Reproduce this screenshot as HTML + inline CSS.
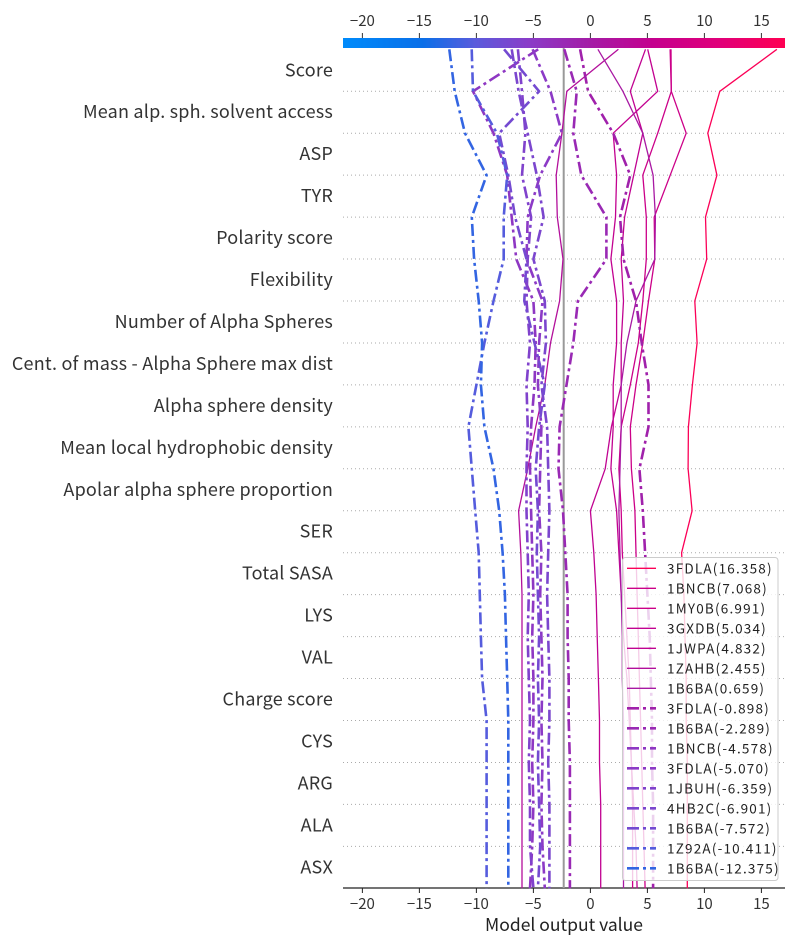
<!DOCTYPE html>
<html><head><meta charset="utf-8">
<style>
html,body{margin:0;padding:0;background:#fff;}
svg{display:block;font-family:"Noto Sans CJK JP","Liberation Sans","DejaVu Sans",sans-serif;}
</style></head>
<body>
<svg id="chart" width="800" height="950" viewBox="0 0 800 950" xmlns="http://www.w3.org/2000/svg">
<defs>
<linearGradient id="cbar" x1="0" x2="1" y1="0" y2="0">
<stop offset="0" stop-color="#008bfb"/><stop offset="0.18" stop-color="#0a6fe8"/><stop offset="0.3" stop-color="#5b5bdc"/><stop offset="0.42" stop-color="#8a3cc8"/><stop offset="0.55" stop-color="#a21ea8"/><stop offset="0.7" stop-color="#c4008e"/><stop offset="0.85" stop-color="#e0007a"/><stop offset="1" stop-color="#ff0052"/>
</linearGradient>
</defs>
<rect x="343" y="38" width="442" height="10" fill="url(#cbar)"/>
<g id="grid"></g>
<g id="toptick"></g>
<g id="bottomaxis"></g>
<line x1="563.7" x2="563.7" y1="48" y2="888" stroke="#999" stroke-width="2"/>
<g id="lines"></g>
<g id="features"></g>
<text x="564" y="931" text-anchor="middle" font-size="17.5" fill="#222">Model output value</text>
<g id="legend"></g>
</svg>
<script>
const features = ["Score","Mean alp. sph. solvent access","ASP","TYR","Polarity score","Flexibility","Number of Alpha Spheres","Cent. of mass - Alpha Sphere max dist","Alpha sphere density","Mean local hydrophobic density","Apolar alpha sphere proportion","SER","Total SASA","LYS","VAL","Charge score","CYS","ARG","ALA","ASX"];
const tickValues = [-20,-15,-10,-5,0,5,10,15];
const tickLabels = ["\u221220","\u221215","\u221210","\u22125","0","5","10","15"];
const sampleNames = ["3FDLA","1BNCB","1MY0B","3GXDB","1JWPA","1ZAHB","1B6BA","3FDLA","1B6BA","1BNCB","3FDLA","1JBUH","4HB2C","1B6BA","1Z92A","1B6BA"];
const finalValues = [16.358,7.068,6.991,5.034,4.832,2.455,0.659,-0.898,-2.289,-4.578,-5.070,-6.359,-6.901,-7.572,-10.411,-12.375];
const baseValue = -2.33;
const s0 = [16.36,11.35,10.3,11.1,10.1,10.2,9.16,9.36,8.95,8.6,8.57,8.92,8.0,8.2,8.3,8.4,8.4,8.5,8.5,8.5,8.5];
const s1 = [7.07,7.1,8.4,7.0,5.6,5.65,5.1,4.6,4.0,3.5,3.6,3.9,4.0,4.1,4.2,4.3,4.4,4.5,4.6,4.7,4.8];
const s2 = [6.99,7.1,5.9,4.6,4.9,4.9,4.6,4.2,3.5,2.7,2.5,2.7,2.8,3.0,3.2,3.4,3.5,3.6,3.7,3.7,3.7];
const s3 = [5.03,5.9,2.0,2.3,2.2,1.8,2.3,2.3,2.0,2.0,1.8,2.3,2.5,2.7,2.9,3.2,3.4,3.6,3.8,4.0,4.1];
const s4 = [4.83,3.5,4.6,3.8,3.0,2.7,2.9,2.7,2.7,1.84,1.3,0.0,0.3,0.5,0.6,0.7,0.8,0.8,0.9,0.9,0.9];
const s5 = [2.46,-2.07,-2.5,-3.0,-2.9,-2.4,-2.7,-3.5,-4.0,-4.8,-5.5,-6.3,-6.1,-6.0,-6.0,-6.0,-6.0,-6.0,-6.0,-6.0,-6.0];
const s6 = [0.66,2.85,4.6,5.5,5.7,5.65,4.0,3.2,2.7,2.7,2.6,2.5,2.6,2.7,2.8,2.8,2.9,2.9,2.9,2.9,2.9];
const s7 = [-0.9,-0.2,2.0,3.5,2.6,2.9,4.0,4.5,5.1,5.1,4.3,4.6,4.8,5.0,5.2,5.3,5.4,5.4,5.5,5.5,5.5];
const s8 = [-2.29,-1.2,-1.5,-0.8,1.4,1.4,-1.1,-1.5,-2.1,-2.7,-2.8,-2.4,-2.2,-2.0,-2.0,-1.9,-1.9,-1.8,-1.8,-1.8,-1.8];
const s9 = [-4.58,-10.3,-8.5,-7.3,-6.9,-6.5,-5.0,-4.8,-4.9,-5.2,-5.3,-5.2,-5.1,-5.0,-5.1,-5.0,-5.0,-5.1,-5.0,-5.1,-5.3];
const s10 = [-5.07,-3.5,-2.5,-4.4,-5.5,-5.6,-4.2,-4.5,-4.6,-4.3,-4.4,-4.5,-4.3,-4.4,-4.3,-4.2,-4.3,-4.2,-4.3,-4.2,-4.0];
const s11 = [-6.36,-6.0,-5.7,-6.0,-5.2,-5.5,-5.6,-5.3,-5.6,-5.5,-5.6,-5.6,-5.5,-5.4,-5.5,-5.4,-5.3,-5.4,-5.3,-5.3,-5.0];
const s12 = [-6.9,-6.3,-5.5,-4.7,-4.1,-5.0,-4.0,-3.9,-4.3,-3.8,-3.7,-3.6,-3.7,-3.8,-3.7,-3.6,-3.6,-3.7,-3.6,-3.6,-3.6];
const s13 = [-7.57,-4.5,-8.0,-7.2,-6.6,-5.6,-5.8,-4.9,-4.0,-4.5,-4.8,-4.6,-4.7,-4.6,-4.5,-4.6,-4.5,-4.6,-4.5,-4.4,-4.6];
const s14 = [-10.41,-10.3,-8.2,-7.3,-7.6,-7.6,-8.5,-9.3,-10.0,-10.7,-10.4,-10.1,-9.8,-9.7,-9.6,-9.5,-9.1,-9.1,-9.1,-9.1,-9.1];
const s15 = [-12.38,-11.9,-11.0,-9.1,-10.4,-10.2,-9.8,-9.5,-9.6,-9.3,-8.5,-8.0,-7.7,-7.5,-7.4,-7.3,-7.2,-7.2,-7.2,-7.2,-7.2];
const series = [s0,s1,s2,s3,s4,s5,s6,s7,s8,s9,s10,s11,s12,s13,s14,s15];

const NS = "http://www.w3.org/2000/svg";
const X0 = 343, X1 = 785, XMIN = -21.7, XMAX = 17.07;
function xScale(v){ return X0 + (v - XMIN) / (XMAX - XMIN) * (X1 - X0); }
const YTOP = 49.3, YSTEP = 41.95;
function yScale(k){ return YTOP + k * YSTEP; }
const stops = [[0,[0,139,251]],[0.18,[10,111,232]],[0.3,[91,91,220]],[0.42,[138,60,200]],[0.55,[162,30,168]],[0.7,[196,0,142]],[0.85,[224,0,122]],[1,[255,0,82]]];
function colorFor(v){
  let t = Math.max(0, Math.min(1, (v - XMIN) / (XMAX - XMIN)));
  for (let i = 1; i < stops.length; i++) {
    if (t <= stops[i][0]) {
      const a = stops[i-1], b = stops[i], f = (t - a[0]) / (b[0] - a[0]);
      const c = a[1].map((x, j) => Math.round(x + (b[1][j] - x) * f));
      return "rgb(" + c.join(",") + ")";
    }
  }
  return "rgb(255,0,82)";
}
function mk(tag, attrs, parent){
  const e = document.createElementNS(NS, tag);
  for (const k in attrs) e.setAttribute(k, attrs[k]);
  parent.appendChild(e);
  return e;
}

const grid = document.getElementById("grid");
for (let i = 1; i < features.length; i++) {
  const l = mk("line", {x1: X0, x2: X1, y1: yScale(i), y2: yScale(i), stroke: "#aaa", "stroke-width": 1, "stroke-dasharray": "1,3"}, grid);
  
  
}
const fg = document.getElementById("features");
features.forEach((f, i) => {
  const t = mk("text", {x: 333, y: yScale(i) + YSTEP / 2 + 6, "text-anchor": "end", "font-size": 18, "letter-spacing": 0.2, fill: "#333"}, fg);
  t.textContent = f;
  
  
});
const tt = document.getElementById("toptick");
tickValues.forEach((v, i) => {
  const x = xScale(v);
  const tk = mk("line", {x1: x, x2: x, y1: 33, y2: 38, stroke: "#333", "stroke-width": 1}, tt);
  
  
  const t = mk("text", {x: x, y: 26, "text-anchor": "middle", "font-size": 15, fill: "#333"}, tt);
  t.textContent = tickLabels[i];
  
  
});
const ba = document.getElementById("bottomaxis");
const axl = mk("line", {x1: X0, x2: X1, y1: 888, y2: 888, stroke: "#222", "stroke-width": 1.3}, ba);


tickValues.forEach((v, i) => {
  const x = xScale(v);
  const tk = mk("line", {x1: x, x2: x, y1: 888, y2: 893, stroke: "#222", "stroke-width": 1}, ba);
  
  
  const t = mk("text", {x: x, y: 909, "text-anchor": "middle", "font-size": 15, fill: "#333"}, ba);
  t.textContent = tickLabels[i];
  
  
});
const lg = document.getElementById("lines");
series.forEach((s, i) => {
  const pts = s.map((v, k) => xScale(v).toFixed(1) + "," + yScale(k).toFixed(1)).join(" ");
  const neg = finalValues[i] < 0;
  const attrs = {points: pts, fill: "none", stroke: colorFor(finalValues[i]), "stroke-width": neg ? 2.6 : 1.3, "stroke-linejoin": "round"};
  if (neg) attrs["stroke-dasharray"] = "12,4,3,4";
  const p = mk("polyline", attrs, lg);
  
  
});
const leg = document.getElementById("legend");
const box = mk("rect", {x: 622.5, y: 557.5, width: 155.5, height: 323, rx: 3, fill: "rgba(255,255,255,0.8)", stroke: "#ccc", "stroke-width": 1}, leg);


sampleNames.forEach((n, i) => {
  const y = 568.3 + 20 * i;
  const neg = finalValues[i] < 0;
  const la = {x1: 627, x2: 656, y1: y, y2: y, stroke: colorFor(finalValues[i]), "stroke-width": neg ? 2.6 : 1.3};
  if (neg) la["stroke-dasharray"] = "12,4,3,4";
  const l = mk("line", la, leg);
  
  
  const t = mk("text", {x: 667, y: y + 5, "font-size": 13.5, "letter-spacing": 1.2, fill: "#222"}, leg);
  t.textContent = n + "(" + finalValues[i].toFixed(3) + ")";
  
  
});
</script>
</body></html>
